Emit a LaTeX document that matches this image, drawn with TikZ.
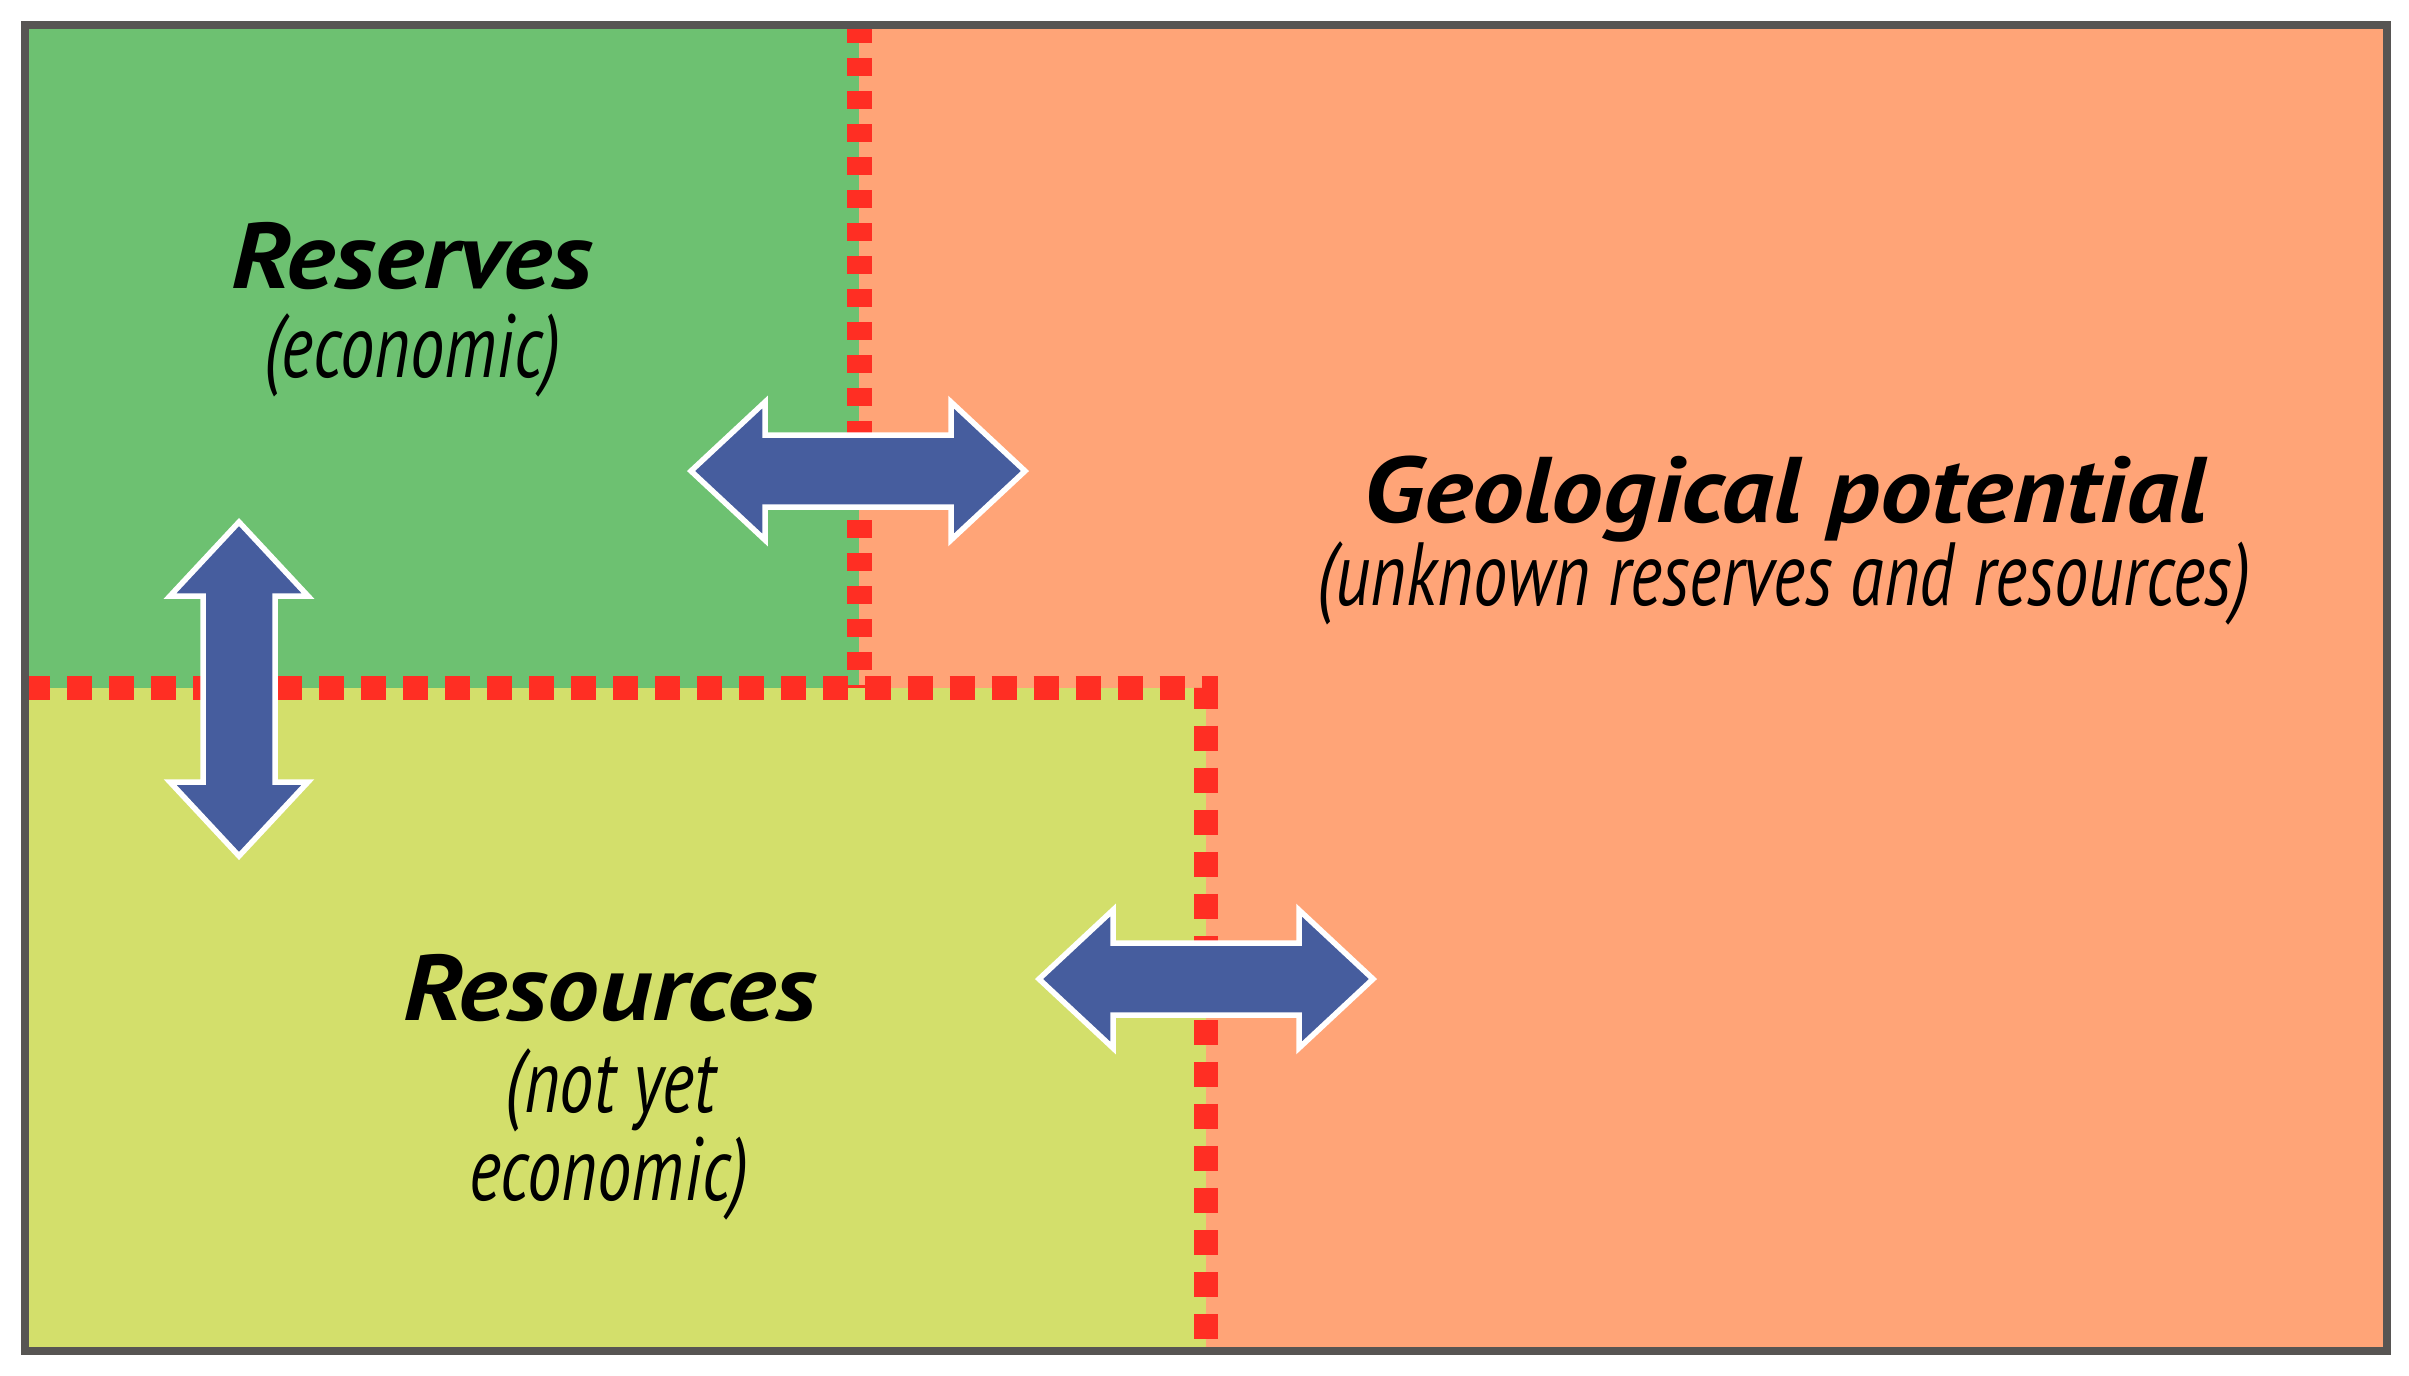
\documentclass[tikz,border=0pt]{standalone}
\usepackage{fontspec}
\setmainfont{PT Sans}
\newfontfamily\widefont[FakeStretch=1.11]{PT Sans}
\newfontfamily\narrowfont[FakeStretch=0.765]{PT Sans}
\usepackage{tikz}
\usetikzlibrary{calc,positioning}

\definecolor{reservegreen}{HTML}{6DC171}
\definecolor{resourcelime}{HTML}{D3DF6B}
\definecolor{potentialorange}{HTML}{FFA477}
\definecolor{limitred}{HTML}{FF2E23}
\definecolor{arrowblue}{HTML}{465D9E}
\definecolor{framegray}{HTML}{575553}

\tikzset{
  areatitle/.style={font=\widefont\fontsize{26.5}{30}\selectfont\bfseries\itshape, inner sep=0pt, anchor=base},
  areanote/.style={font=\narrowfont\fontsize{25.5}{30}\selectfont\itshape, inner sep=0pt, anchor=base},
  arrowbody/.style={fill=arrowblue, draw=white, line width=0.055cm, line join=miter},
  pics/dblarrow/.style={code={
    \draw[arrowbody] (-167,0) -- (-93,-69) -- (-93,-36) -- (93,-36) -- (93,-69)
      -- (167,0) -- (93,69) -- (93,36) -- (-93,36) -- (-93,69) -- cycle;
  }},
}

\begin{document}
\begin{tikzpicture}[x=0.01cm, y=-0.01cm]
    \useasboundingbox (0,0) rectangle (2409,1375);

    \coordinate (NW) at (25,25);
    \coordinate (SE) at (2387,1351);
    \coordinate (A) at (859,25);
    \coordinate (B) at (859,688);
    \coordinate (C) at (25,688);
    \coordinate (D) at (1206,688);
    \coordinate (E) at (1206,1351);

    % areas
    \fill[potentialorange] (NW) rectangle (SE);
    \fill[reservegreen] (NW) rectangle (B);
    \fill[resourcelime] (C) rectangle (E);

    % limits
    \draw[limitred, line width=0.25cm, dash pattern=on 0.18cm off 0.15cm] (A) -- (B);
    \draw[limitred, line width=0.24cm, dash pattern=on 0.25cm off 0.17cm] (C) -- (D) -- (E);

    \draw[framegray, line width=0.085cm] (NW) rectangle (SE);

    % transitions
    \coordinate (t1) at (858,471);
    \coordinate (t2) at (239,689);
    \coordinate (t3) at (1206,979);
    \pic at (t1) {dblarrow};
    \pic[rotate=90] at (t2) {dblarrow};
    \pic at (t3) {dblarrow};

    \node[areatitle] (reserves) at (412,288) {Reserves};
    \node[areanote] (reservesnote) at (413,377) {(economic)};
    \node[areatitle] (resources) at (610,1020) {Resources};
    \node[areanote] (resourcesnote) at (611,1112) {(not yet};
    \node[areanote] (resourcesnoteb) at (609,1200) {economic)};
    \node[areatitle] (potential) at (1785,522) {Geological potential};
    \node[areanote] (potentialnote) at (1784,605) {(unknown reserves and resources)};

\end{tikzpicture}
\end{document}
